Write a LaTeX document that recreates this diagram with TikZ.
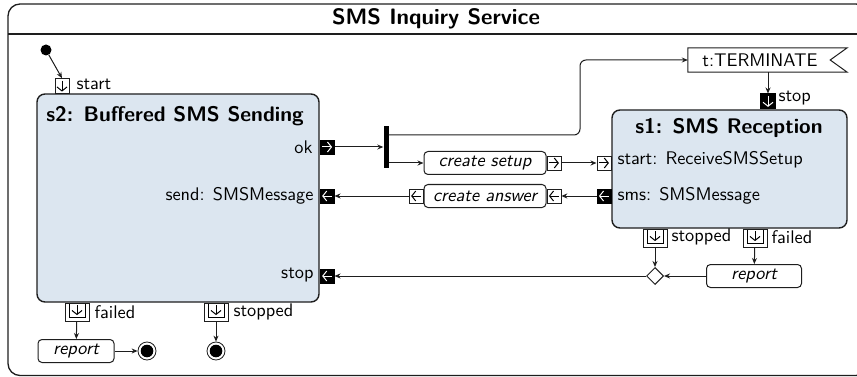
\documentclass[tikz,border=0pt]{standalone}
\usepackage{fontspec}
\setsansfont{lmsans10-regular.otf}[BoldFont=lmsans10-bold.otf,
  ItalicFont=lmsans10-oblique.otf, BoldItalicFont=lmsans10-boldoblique.otf]
\usetikzlibrary{arrows.meta,shapes.geometric,calc}
\definecolor{blockfill}{RGB}{220,230,240}
\definecolor{edge}{RGB}{30,30,30}
\newcommand\txtfont{\sffamily\fontsize{18.3}{21}\selectfont}
\newcommand\titlefont{\sffamily\bfseries\fontsize{22.3}{26}\selectfont}
\newcommand\headfont{\sffamily\bfseries\fontsize{21.1}{24}\selectfont}
\begin{document}
\begin{tikzpicture}[x=1pt, y=-1pt,
  every node/.style={font=\txtfont},
  frame/.style={draw=edge, line width=1.3pt},
  block/.style={draw=edge, line width=1.4pt, fill=blockfill, rounded corners=8pt, inner sep=0pt},
  action/.style={draw=edge, line width=1pt, rounded corners=4pt, fill=white,
    minimum height=23pt, inner sep=0pt, font=\txtfont\itshape},
  flow/.style={draw=edge, line width=1pt, -{Stealth[length=6pt,width=5pt]}},
  portw/.style={draw=edge, line width=0.8pt, fill=white, minimum width=14pt,
    minimum height=14pt, inner sep=0pt},
  portb/.style={portw, fill=black, draw=black},
  barb/.style={line width=1pt, -{Straight Barb[length=4pt,width=10pt]}},
  pointR/.style={path picture={\draw[barb, #1] ([xshift=2pt]path picture bounding box.west) -- ([xshift=-2pt]path picture bounding box.east);}},
  pointL/.style={path picture={\draw[barb, #1] ([xshift=-2pt]path picture bounding box.east) -- ([xshift=2pt]path picture bounding box.west);}},
  pointD/.style={path picture={\draw[barb, #1] ([yshift=-2pt]path picture bounding box.north) -- ([yshift=2pt]path picture bounding box.south);}},
  pointR/.default=black, pointL/.default=black, pointD/.default=black,
  dport/.style={draw=edge, line width=0.8pt, fill=white, minimum width=24pt,
    minimum height=18pt, inner sep=0pt,
    path picture={
      \draw[black, line width=0.8pt] ([xshift=4pt]path picture bounding box.north west)
        rectangle ([xshift=-4pt,yshift=4pt]path picture bounding box.south east);
      \draw[barb, black] ([yshift=-2pt]path picture bounding box.north)
        -- ([yshift=6pt]path picture bounding box.south);}},
  initial/.style={circle, fill=black, minimum size=11pt, inner sep=0pt},
  final/.style={circle, draw=edge, line width=0.8pt, fill=white, minimum size=18pt,
    inner sep=0pt, path picture={\fill[black] (path picture bounding box.center) circle (6.3pt);}},
  merge/.style={diamond, draw=edge, line width=1pt, fill=white, minimum width=17pt,
    minimum height=17pt, inner sep=0pt}
]
\path[use as bounding box] (0,0) rectangle (857,377);

% outer frame with its title bar
\draw[frame, rounded corners=12pt] (8,4) rectangle (868,375.5);
\draw[frame] (8,34) -- (868,34);
\node[font=\titlefont] (title) at (436,19) {SMS Inquiry Service};

% activity s2
\node[block, minimum width=282pt, minimum height=208pt] (s2) at (178,198) {};
\node[font=\headfont] (s2title) at (175,116) {s2: Buffered SMS Sending};
\node[initial] (init) at (46,50) {};
\node[portw, pointD, minimum height=15pt, anchor=south] (s2start) at (62,94) {};
\node[anchor=west] (lstart) at (73,84) {start};
\node[portb, pointR=white, anchor=west] (okport) at (s2.east |- 0,147) {};
\node[anchor=east] (lok) at (316,147) {ok};
\node[portb, pointL=white, anchor=west] (sendport) at (s2.east |- 0,196) {};
\node[anchor=east] (lsend) at (317,196) {send: SMSMessage};
\node[portb, pointL=white, anchor=west] (stopport) at (s2.east |- 0,276) {};
\node[anchor=east] (lstop) at (317,275) {stop};
\node[dport, anchor=north] (s2failed) at (77,0 |- s2.south) {};
\node[anchor=west] (lfailed) at (91,312) {failed};
\node[dport, anchor=north] (s2stopped) at (216,0 |- s2.south) {};
\node[anchor=west] (lstopped) at (230,312) {stopped};
\node[action, minimum width=76pt] (report1) at (76,351) {report};
\node[final] (final1) at (147,351) {};
\node[final] (final2) at (216,351) {};

% fork and the two actions between the activities
\node[fill=black, minimum width=5pt, minimum height=42pt, inner sep=0pt] (fork) at (386,147.5) {};
\node[action, minimum width=122pt] (setup) at (485,163) {create setup};
\node[portw, pointR, anchor=west] (setupout) at (setup.east) {};
\node[action, minimum width=122pt] (answer) at (485,196) {create answer};
\node[portw, pointL, anchor=west] (ansin) at (answer.east) {};
\node[portw, pointL, anchor=east] (ansout) at (answer.west) {};

% accept event: a box with a notch cut into its right side
\node[minimum width=159pt, minimum height=24pt, inner sep=0pt] (term) at (767.5,60) {};
\draw[draw=edge, line width=1pt] (term.north west) -- (term.north east)
  -- ($(term.east)+(-17,0)$) -- (term.south east) -- (term.south west) -- cycle;
\node (termtext) at (760,60) {t:TERMINATE};
\coordinate (bend) at (580,60);

% activity s1
\node[block, minimum width=235pt, minimum height=118pt] (s1) at (729.5,169) {};
\node[font=\headfont] (s1title) at (729,128) {s1: SMS Reception};
\node[portb, pointD=white, minimum width=15pt, minimum height=15pt, anchor=south] (s1stop) at (768,0 |- s1.north) {};
\node[anchor=west] (ls1stop) at (775,98) {stop};
\node[portw, pointR, anchor=east] (s1start) at (s1.west |- 0,163) {};
\node[anchor=west] (ls1start) at (614,160) {start: ReceiveSMSSetup};
\node[portb, pointL=white, anchor=east] (smsport) at (s1.west |- 0,196) {};
\node[anchor=west] (lsms) at (614,196) {sms: SMSMessage};
\node[dport, anchor=north] (s1stopped) at (655,0 |- s1.south) {};
\node[anchor=west] (ls1stopped) at (668,237) {stopped};
\node[dport, anchor=north] (s1failed) at (755,0 |- s1.south) {};
\node[anchor=west] (ls1failed) at (768,237) {failed};
\node[merge] (join) at (655,276) {};
\node[action, minimum width=95pt] (report2) at (754,276) {report};

% flows
\draw[flow] (init) -- (s2start.north);
\draw[flow] (okport) -- (okport -| fork.west);
\draw[flow] (fork.east |- setup) -- (setup.west);
\draw[flow, rounded corners=6pt] (fork.east |- 0,135) -| (bend) -- (term.west);
\draw[flow] (setupout) -- (s1start);
\draw[flow] (smsport) -- (ansin);
\draw[flow] (ansout) -- (sendport);
\draw[flow] (term.south -| s1stop) -- (s1stop.north);
\draw[flow] (s1stopped) -- (join);
\draw[flow] (s1failed) -- (report2);
\draw[flow] (report2) -- (join);
\draw[flow] (join) -- (stopport);
\draw[flow] (s2failed) -- (report1);
\draw[flow] (report1) -- (final1);
\draw[flow] (s2stopped) -- (final2);
\end{tikzpicture}
\end{document}
